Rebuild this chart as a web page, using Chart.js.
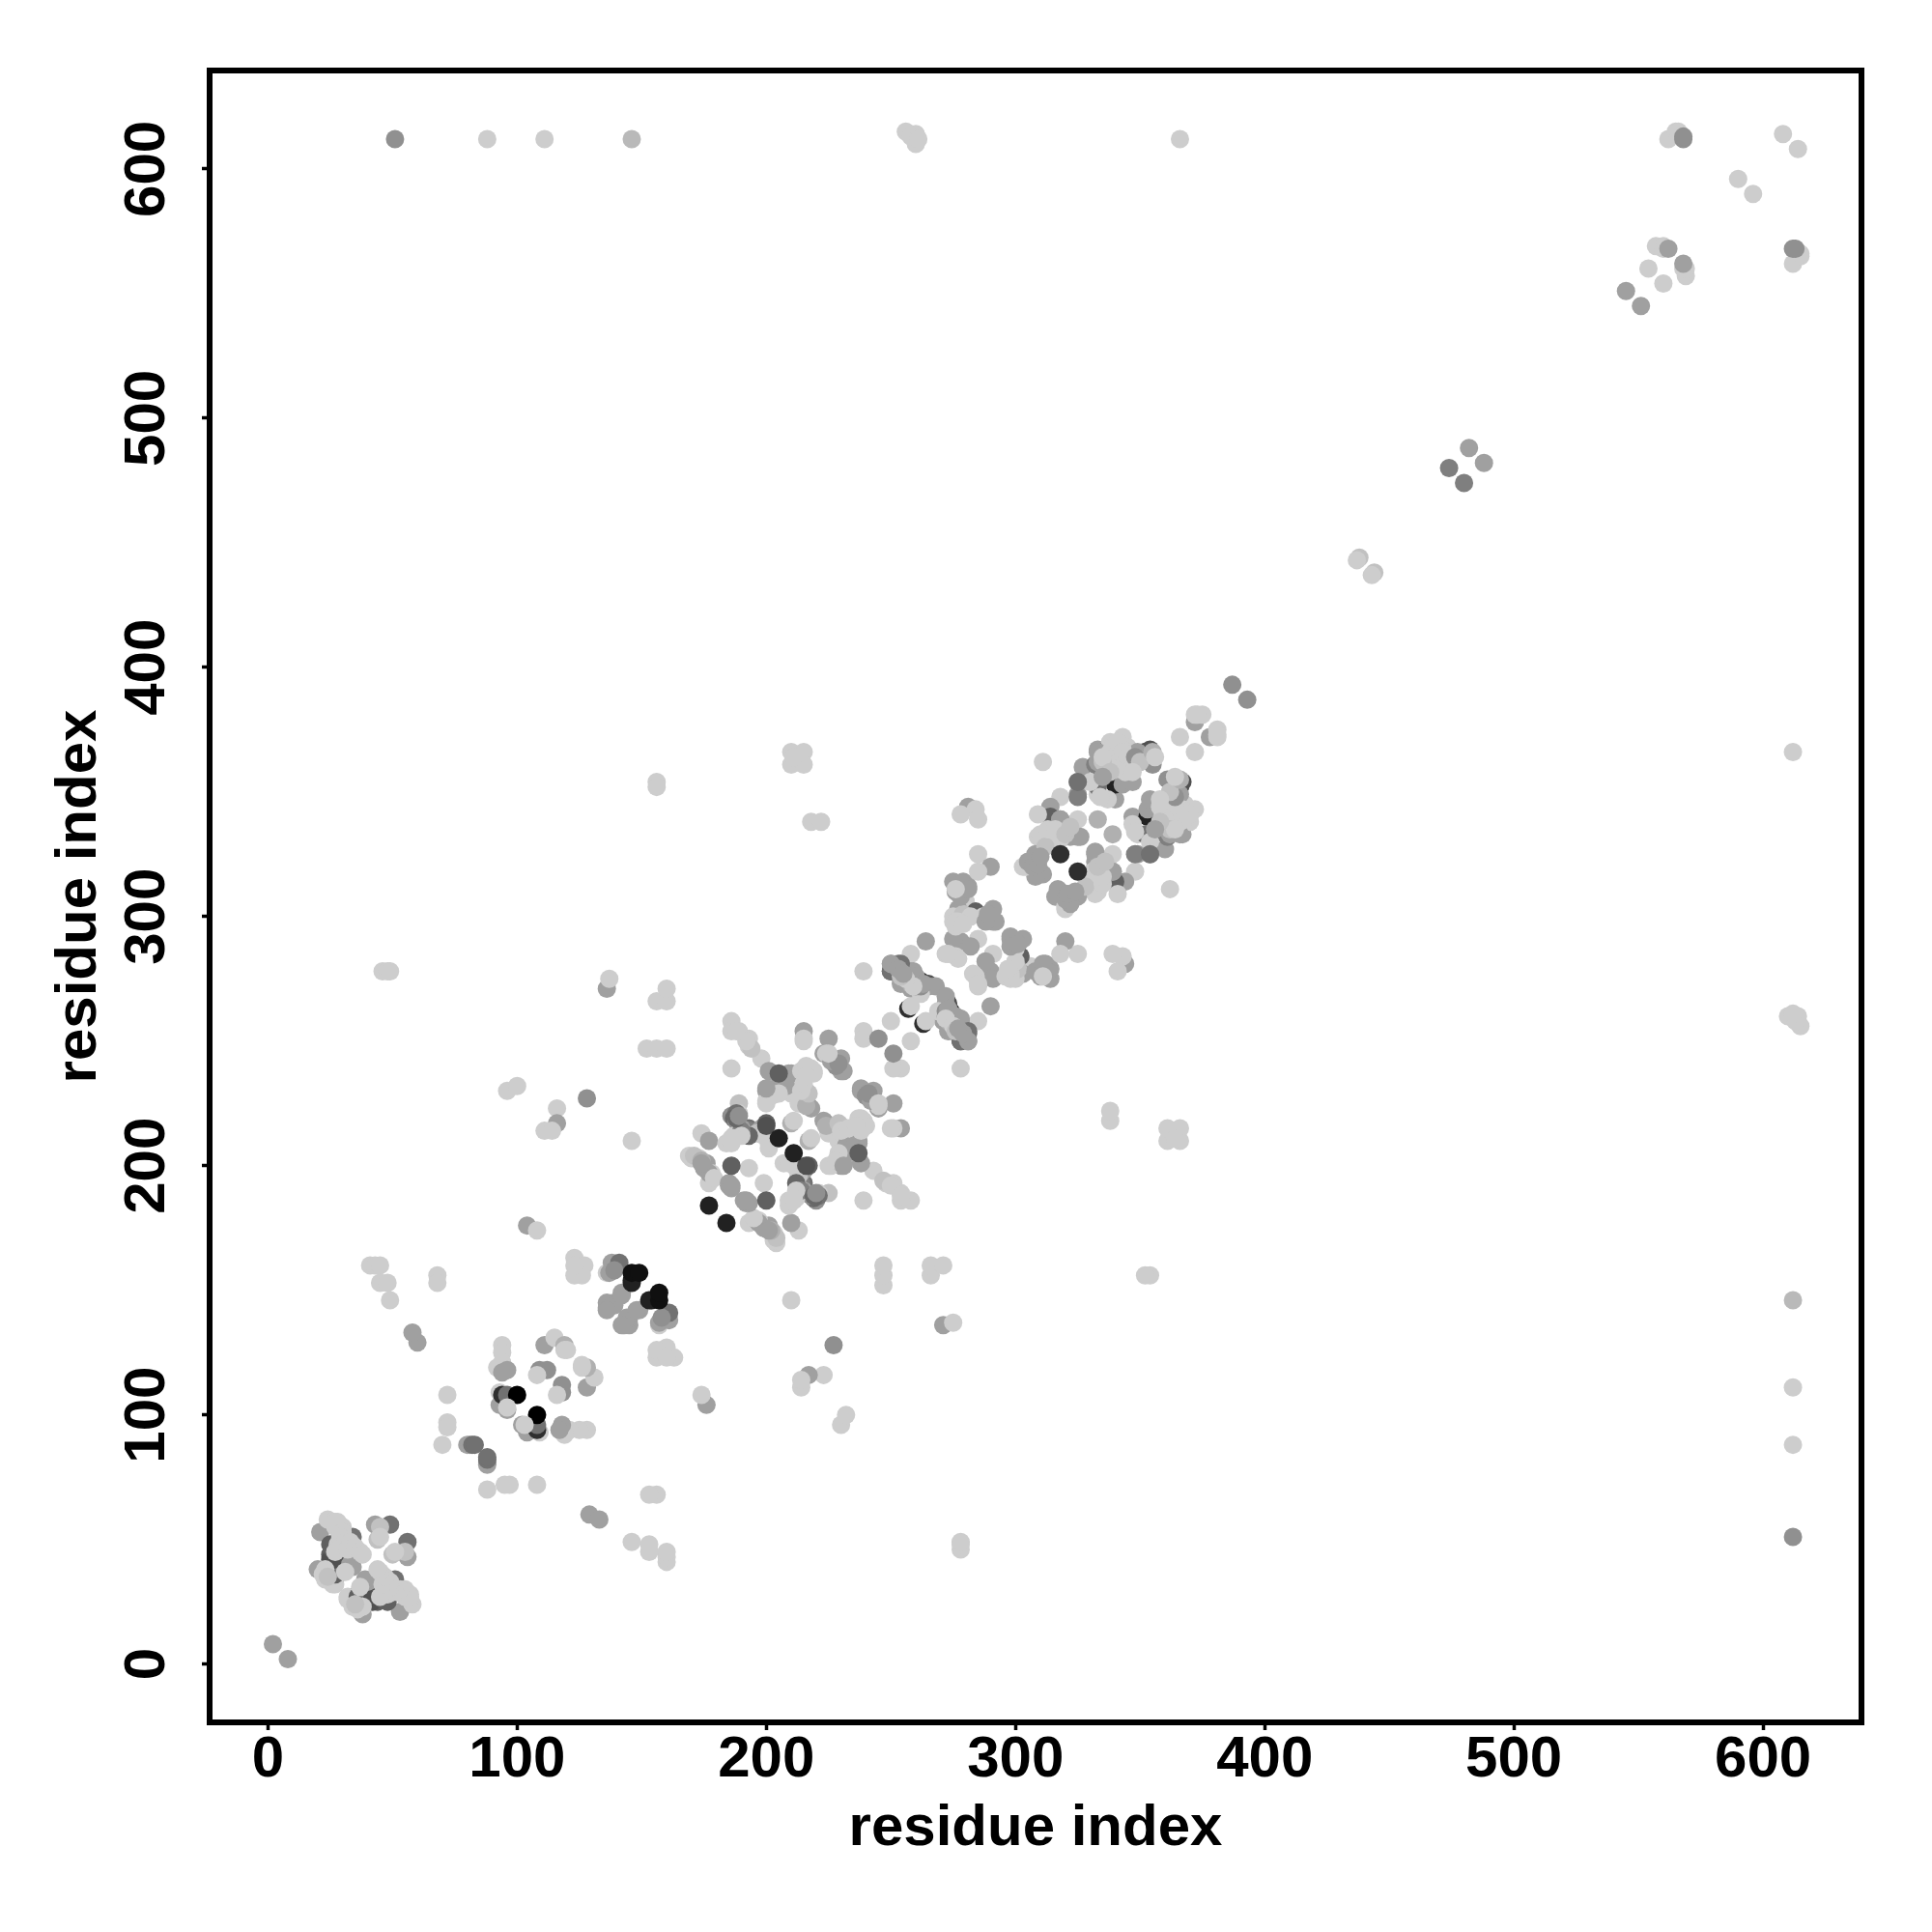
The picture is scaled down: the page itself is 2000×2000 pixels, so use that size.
<!DOCTYPE html>
<html lang="en">

<head>
    <meta charset="UTF-8">
    <title>Contact map</title>
    <style>
        body { margin: 0; background: #fff; }
    </style>
    <script src="https://cdn.jsdelivr.net/npm/chart.js"></script>
</head>

<body>
    <canvas id="myChart" width="2000" height="2000"></canvas>

    <script>
        const tickValues = [0, 100, 200, 300, 400, 500, 600];

        // contacts as [residue i, residue j, score], the map is symmetric so only i < j is kept
        const nTerminal = [
            [2, 8, .22], [20, 38, .22], [21, 53, .22], [23, 34, 0], [22, 36, 0], [27, 34, .3], [26, 32, 0], [27, 32, 0],
            [25, 48, .53], [25, 44, .53], [25, 42, .61], [26, 38, .53], [27, 36, .53], [27, 38, .38], [27, 42, .61],
            [26, 46, .53], [33, 40, .22], [34, 39, .22], [34, 51, .45], [43, 56, .22], [49, 56, .45], [45, 55, .06], [44, 50, .06],
            [24, 58, 0], [26, 57, 0], [28, 57, 0], [30, 55, 0], [27, 55, 0], [27, 57, 0], [28, 48, 0], [30, 53, 0],
            [29, 51, 0], [31, 49, 0], [33, 46, 0], [33, 49, 0], [34, 44, .22], [27, 45, 0], [23, 38, 0], [24, 35, .06],
            [31, 37, 0], [32, 46, 0], [35, 47, 0], [37, 45, 0], [38, 44, 0], [45, 51, 0]
        ];
        const linkerA = [
            [41, 160, 0], [43, 160, 0], [45, 160, 0], [45, 153, 0], [48, 153, 0], [49, 146, 0], [68, 156, 0], [68, 153, 0],
            [46, 278, 0], [48, 278, 0], [49, 278, 0], [60, 129, .22], [58, 133, .22], [72, 108, 0], [72, 97, 0], [72, 95, 0],
            [70, 88, 0], [80, 88, .22], [81, 88, .22], [82, 88, .45], [83, 88, .45], [104, 176, .22], [108, 174, 0]
        ];
        const helixB = [
            [94, 128, 0], [94, 125, 0], [94, 121, 0], [92, 119, 0], [96, 118, .22], [94, 117, .22], [111, 128, .22], [115, 131, 0],
            [119, 128, .14], [119, 126, 0], [120, 126, 0], [109, 118, .3], [112, 118, .3], [108, 116, 0], [93, 104, .22],
            [96, 102, .22], [93, 109, 0], [94, 108, .77], [96, 108, .45], [100, 108, 1], [96, 103, 0]
        ];
        const helixC = [
            [123, 163, 0], [123, 156, 0], [127, 160, 0], [126, 156, 0], [123, 160, 0], [136, 157, 0], [137, 157, .22], [138, 161, .22],
            [141, 161, .45], [139, 158, .3], [136, 143, .22], [136, 145, .22], [139, 145, .22], [139, 144, .22], [136, 142, .22],
            [142, 149, .22], [142, 148, .22], [146, 154, .84], [146, 153, .84], [146, 157, .92], [149, 157, .92]
        ];
        const scattered = [
            [136, 271, .22], [137, 275, 0], [156, 266, 0], [160, 266, 0], [160, 271, 0], [152, 247, 0], [156, 247, 0], [160, 247, 0],
            [96, 230, 0], [100, 232, 0], [128, 227, .3], [116, 223, 0], [116, 217, .22], [111, 214, 0], [114, 214, 0], [146, 210, 0],
            [156, 354, 0], [156, 352, 0], [210, 366, 0], [215, 366, 0], [210, 361, 0], [215, 361, 0], [211, 364, 0],
            [218, 338, 0], [222, 338, 0], [239, 278, 0], [311, 362, 0], [51, 612, .3], [88, 612, 0], [111, 612, 0], [146, 612, .1], [366, 612, 0],
            [260, 610, 0], [260, 614, 0], [256, 615, 0], [258, 613, 0], [261, 612, 0]
        ];
        const domainD = [
            [186, 258, 0], [186, 254, 0], [189, 254, 0], [193, 251, 0], [193, 248, 0], [198, 243, 0], [186, 239, 0], [194, 247, .06],
            [192, 250, 0], [188, 254, 0], [174, 213, 0], [177, 210, .22], [169, 204, 0], [172, 203, 0], [170, 203, 0], [173, 203, 0],
            [176, 201, .22], [176, 199, .22], [178, 197, 0], [177, 193, 0], [185, 192, .22], [193, 199, 0],
            [184, 209, 0], [189, 225, .06], [186, 220, .3], [189, 221, 0], [193, 215, .45], [193, 214, .38], [189, 216, .45], [188, 221, .45],
            [200, 230, .22], [200, 226, 0], [201, 238, .22], [203, 231, .14], [207, 232, .3], [210, 237, .22], [209, 237, .22],
            [210, 229, 0], [216, 230, 0], [218, 238, 0], [214, 238, 0], [219, 238, 0], [215, 254, .22], [215, 251, 0], [215, 250, 0],
            [225, 251, .22], [223, 245, .22], [230, 243, .22], [230, 238, .22], [231, 238, .22], [239, 254, 0], [239, 251, 0], [245, 251, .3],
            [250, 258, 0], [224, 245, 0], [217, 224, .22], [213, 225, 0], [210, 217, .14], [211, 218, 0], [218, 223, .22],
            [215, 229, 0], [208, 232, .22], [200, 225, 0], [201, 230, .22], [204, 229, .22], [201, 207, 0], [200, 212, .22],
            [218, 239, 0], [216, 240, 0], [228, 240, .3], [226, 242, .22], [229, 241, .3], [225, 245, 0], [216, 224, .14], [217, 229, .06],
            [214, 230, 0], [215, 233, 0], [219, 237, 0], [216, 236, 0], [205, 232, .22], [207, 235, .22], [205, 229, 0], [202, 228, 0], [200, 231, .22],
            [187, 219, .5], [188, 218, .3], [190, 215, .22], [191, 213, 0], [187, 212, 0], [186, 211, 0], [188, 212, 0], [198, 215, .22],
            [196, 213, .06], [199, 212, 0], [201, 210, 0], [201, 209, 0], [171, 204, .06], [174, 202, .14], [175, 199, .22], [177, 197, .22],
            [179, 195, 0], [185, 193, .22], [186, 191, .22], [186, 192, .22], [174, 201, .22], [193, 212, .5], [190, 214, .38], [188, 219, .5],
            [190, 212, 0], [186, 209, 0], [187, 211, 0], [189, 220, .3],
            [205, 237, .53], [186, 200, .53], [177, 184, .84], [200, 217, .53], [200, 216, .61], [205, 211, .84]
        ];
        const domainE = [
            [281, 344, .22], [284, 343, 0], [278, 341, 0], [285, 339, 0], [285, 325, 0], [290, 320, .22], [285, 318, 0], [275, 314, .22],
            [279, 314, .22], [281, 312, .22], [276, 310, .22], [279, 305, .77], [280, 306, 0], [277, 303, .22], [291, 303, .22], [284, 302, .53],
            [291, 298, .22], [275, 298, 0], [279, 298, .06], [287, 300, 0], [292, 298, .22], [264, 290, .22], [285, 291, 0], [278, 290, .22],
            [282, 288, .22], [275, 291, .22], [272, 285, 0], [276, 284, 0], [277, 283, 0], [273, 285, 0], [278, 298, 0],
            [280, 312, .22], [258, 285, 0], [250, 281, .22], [253, 281, .38], [250, 278, .53], [258, 278, .22], [254, 274, 0], [262, 274, .77],
            [265, 273, .61], [265, 272, .22], [258, 271, .22], [257, 263, .77], [258, 264, 0], [268, 272, .22], [259, 278, .22], [254, 281, .45],
            [250, 278, .45], [250, 281, .22], [254, 273, .22], [262, 269, 0],
            [276, 296, 0], [277, 299, 0], [275, 300, 0], [279, 301, .06], [282, 300, 0], [288, 298, .22], [289, 301, .22], [277, 298, 0], [276, 298, 0],
            [279, 297, 0], [277, 310, .22], [278, 308, .22], [278, 313, .22], [281, 311, .22], [276, 311, 0], [256, 276, .22], [258, 273, .14],
            [260, 272, .22], [259, 274, 0], [260, 276, .22], [262, 272, .3], [263, 273, .22], [259, 272, 0], [256, 275, 0], [254, 276, .06],
            [253, 279, .22], [255, 277, .22]
        ];
        const domainF = [
            [333, 367, .22], [327, 360, .22], [332, 361, .38], [337, 367, .53], [347, 366, .38], [352, 366, .84], [354, 367, .61], [355, 361, .3],
            [340, 363, 0], [343, 372, 0], [338, 370, 0], [345, 368, 0], [325, 354, .22], [325, 349, .22], [332, 354, .53], [318, 348, 0],
            [333, 349, 0], [340, 347, .22], [340, 353, .84], [343, 353, .22], [347, 354, .22], [349, 366, .22], [343, 367, 0], [341, 364, 0], [337, 347, 0],
            [340, 360, 0], [333, 362, .22], [333, 366, .22], [333, 352, .45], [330, 354, 0], [325, 348, .38], [325, 354, .45], [334, 348, 0],
            [314, 344, .22], [314, 340, .53], [309, 341, 0], [318, 339, .22], [325, 339, 0], [333, 339, .14], [326, 332, .22], [322, 332, .22],
            [309, 332, 0], [312, 331, 0], [318, 331, 0], [325, 332, .22], [308, 325, .22], [303, 320, 0], [310, 318, .22],
            [318, 339, .22], [311, 332, 0], [311, 317, .22], [308, 316, .22], [304, 320, 0],
            [338, 366, 0], [339, 368, 0], [341, 370, 0], [343, 366, 0], [345, 364, 0], [348, 364, .3], [350, 362, .06], [310, 333, 0], [314, 332, 0],
            [316, 330, 0], [312, 328, .06], [305, 322, .22], [307, 320, .22], [309, 321, .22], [310, 324, .22], [313, 335, 0], [316, 335, 0],
            [320, 333, .06], [322, 336, .06], [355, 366, .14], [356, 364, 0], [344, 358, 0], [347, 358, 0], [340, 359, 0], [338, 360, 0],
            [335, 362, .06], [335, 364, 0], [338, 358, .06], [335, 356, .22], [318, 325, .77]
        ];
        const cTerminal = [
            [366, 372, 0], [372, 378, .22], [372, 381, 0], [375, 381, 0], [373, 381, 0], [387, 393, .3], [438, 444, .06], [437, 443, 0],
            [474, 480, .38], [482, 488, .22], [545, 551, .22], [554, 560, 0], [557, 569, 0], [560, 569, 0], [560, 568, 0], [562, 568, .22],
            [590, 596, 0], [608, 614, 0], [562, 612, 0], [565, 615, 0], [566, 615, 0], [568, 612, .3], [568, 613, .3]
        ];

        const contacts = [nTerminal, linkerA, helixB, helixC, scattered, domainD, domainE, domainF, cTerminal].flat();

        const points = [];
        const colors = [];
        contacts.forEach(([i, j, score]) => {
            const g = Math.round(205 * (1 - score));
            points.push({ x: i, y: j }, { x: j, y: i });
            colors.push(`rgb(${g},${g},${g})`, `rgb(${g},${g},${g})`);
        });

        const boxBorder = {
            id: 'boxBorder',
            afterDraw(chart) {
                const { ctx, chartArea: a } = chart;
                ctx.save();
                ctx.strokeStyle = '#000';
                ctx.lineWidth = 6;
                ctx.strokeRect(a.left, a.top, a.width, a.height);
                ctx.restore();
            }
        };

        const axisFont = { family: '"Liberation Sans"', size: 60, weight: 'bold' };

        function axis(extra) {
            return Object.assign({
                type: 'linear',
                min: -23.4,
                max: 639.5,
                afterBuildTicks: (s) => { s.ticks = tickValues.map(v => ({ value: v })); },
                border: { display: false },
                grid: { drawOnChartArea: false, drawTicks: true, tickLength: 8, tickWidth: 3.5, tickColor: '#000' }
            }, extra);
        }

        new Chart(document.getElementById('myChart'), {
            type: 'scatter',
            data: {
                datasets: [{
                    data: points,
                    pointBackgroundColor: colors,
                    pointBorderWidth: 0,
                    pointRadius: 9.5
                }]
            },
            options: {
                responsive: false,
                animation: false,
                layout: { padding: { top: 73, right: 73, left: 0, bottom: 0 } },
                plugins: { legend: { display: false }, tooltip: { enabled: false } },
                scales: {
                    x: axis({
                        afterFit: (s) => { s.height = 217; },
                        ticks: { color: '#000', font: axisFont, padding: -5, maxRotation: 0, autoSkip: false },
                        title: { display: true, text: 'residue index', color: '#000', font: axisFont, padding: { top: 0, bottom: 71 } }
                    }),
                    y: axis({
                        afterFit: (s) => { s.width = 217; },
                        ticks: { color: '#000', font: axisFont, padding: 5, minRotation: 90, maxRotation: 90, autoSkip: false, crossAlign: 'center' },
                        title: { display: true, text: 'residue index', color: '#000', font: axisFont, padding: { top: 46, bottom: 0 } }
                    })
                }
            },
            plugins: [boxBorder]
        });
    </script>
</body>

</html>
